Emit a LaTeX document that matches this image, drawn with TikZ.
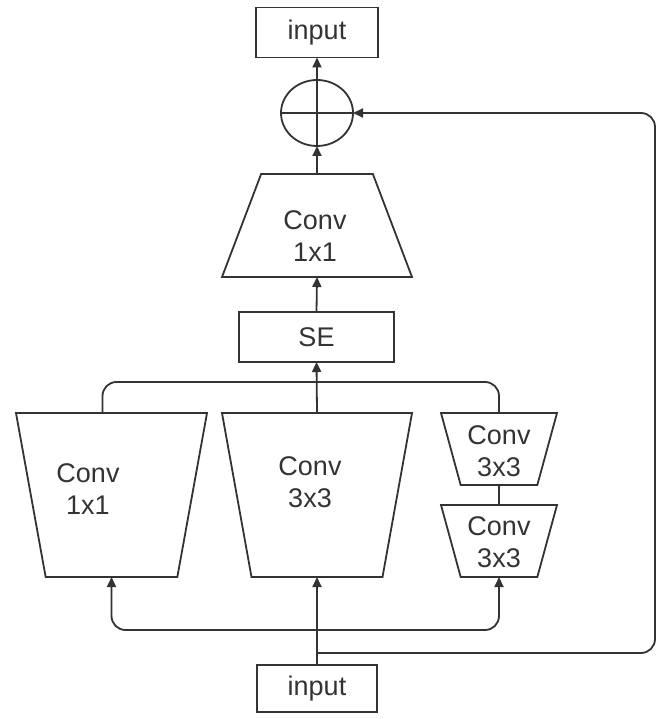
\documentclass[tikz,border=0pt]{standalone}
\usepackage{fontspec}
\setmainfont{Liberation Sans}
\usetikzlibrary{positioning, arrows.meta, shapes.geometric, calc}

\begin{document}
\begin{tikzpicture}[
    x=1pt, y=-1pt, line width=1.8pt, color=black!80,
    every node/.style={font=\fontsize{27}{32}\selectfont, align=center, outer sep=0pt},
    box/.style={rectangle, draw, minimum width=122pt, minimum height=50pt},
    trap/.style={trapezium, draw, trapezium stretches=true, trapezium angle=#1},
    arrow/.style={-{Triangle[length=10pt, width=9pt]}}
]
    \useasboundingbox (0,0) rectangle (662,719);

    % Output side
    \node[box] (topin) at (317,32.5) {input};
    \node[draw, ellipse, minimum width=72pt, minimum height=66pt] (add) at (317,113) {};
    \draw (add.west) -- (add.east);
    \draw (add.south) -- (add.north);

    % Conv 1x1 after SE
    \node[trap=70.7, minimum width=190pt, minimum height=103pt] (c1top) at (317,225.5) {};
    \node (c1toplbl) at (315,236) {Conv\\1x1};

    % SE block
    \node[box, minimum width=155pt] (se) at (316.5,337) {SE};

    % Branches
    \node[trap=77.3, shape border rotate=180, minimum width=191pt, minimum height=164pt] (c1) at (111.5,495) {};
    \node (c1lbl) at (88,489) {Conv\\1x1};

    \node[trap=77.3, shape border rotate=180, minimum width=190pt, minimum height=164pt] (c3) at (317,495) {};
    \node (c3lbl) at (310,482) {Conv\\3x3};

    \node[trap=75.6, shape border rotate=180, minimum width=116pt, minimum height=72pt] (c3a) at (499,449) {};
    \node (c3albl) at (499,451) {Conv\\3x3};
    \node[trap=75.6, shape border rotate=180, minimum width=116pt, minimum height=72pt] (c3b) at (499,541) {};
    \node (c3blbl) at (499,542) {Conv\\3x3};

    % Input
    \node[box, minimum width=120pt, minimum height=47pt] (botin) at (317,688.5) {input};

    \coordinate (split) at (317,630);
    \coordinate (skip) at (317,653);
    \coordinate (bus) at (317,382);

    % Arrows
    \draw[arrow] (botin.north) -- (c3.south);
    \draw[arrow, rounded corners=14pt] (split) -| (c1.south);
    \draw[arrow, rounded corners=14pt] (split) -| (c3b.south);
    \draw (c3a.south) -- (c3b.north);
    \draw[rounded corners=14pt] ([xshift=-9pt]c1.north) |- (bus) -| (c3a.north);
    \draw[arrow] (c3.north) -- (se.south);
    \draw[arrow] (se.north) -- (c1top.south);
    \draw[arrow] (c1top.north) -- (add.south);
    \draw[arrow] (add.north) -- (topin.south);
    \draw[arrow, rounded corners=14pt] (skip) -| (655,113) -- (add.east);

\end{tikzpicture}
\end{document}
